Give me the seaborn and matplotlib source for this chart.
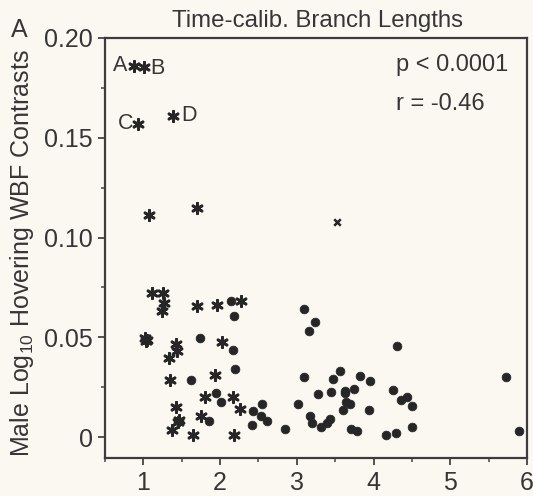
import matplotlib
matplotlib.use("Agg")
import matplotlib.pyplot as plt
import seaborn as sns
import pandas as pd
from matplotlib.ticker import MultipleLocator

# ---- data ----
ast_x = [0.88, 1.01, 0.935, 1.39, 1.07, 1.70, 1.11, 1.25, 1.27, 1.24,
         1.02, 1.05, 1.04, 1.43, 1.44, 1.34, 1.35, 1.42, 1.47, 1.45, 1.37,
         1.65, 1.70, 1.96, 2.27, 2.03, 1.93, 1.80, 1.75, 2.17, 2.26, 2.18]
ast_y = [0.186, 0.1857, 0.157, 0.161, 0.1115, 0.115, 0.0722, 0.0722, 0.0672, 0.0632,
         0.0495, 0.0485, 0.0480, 0.0466, 0.0432, 0.0397, 0.0287, 0.0152, 0.0084, 0.0076, 0.0035,
         0.0010, 0.0656, 0.0663, 0.0680, 0.0477, 0.0313, 0.0201, 0.0107, 0.0202, 0.0140, 0.0010]

dot_x = [2.14, 2.18, 1.74, 2.17, 2.20, 1.62, 1.95, 2.01, 1.86, 2.43,
         2.55, 2.53, 2.61, 2.41, 2.85, 3.09, 3.24, 3.16, 3.09, 3.01,
         3.28, 3.45, 3.47, 3.56, 3.63, 3.63, 3.64, 3.60, 3.17, 3.20,
         3.32, 3.39, 3.43, 3.70, 3.79, 4.30, 3.82, 3.96, 3.74, 3.69,
         3.94, 4.25, 4.36, 4.44, 4.50, 4.50, 4.29, 4.16, 5.73, 5.89]
dot_y = [0.0682, 0.0605, 0.0498, 0.0435, 0.0343, 0.0285, 0.0222, 0.0175, 0.0080, 0.0130,
         0.0168, 0.0107, 0.0080, 0.0060, 0.0042, 0.0643, 0.0577, 0.0532, 0.0302, 0.0168,
         0.0217, 0.0228, 0.0293, 0.0330, 0.0232, 0.0222, 0.0178, 0.0137, 0.0107, 0.0072,
         0.0048, 0.0068, 0.0088, 0.0040, 0.0032, 0.0458, 0.0308, 0.0282, 0.0242, 0.0167,
         0.0135, 0.0237, 0.0185, 0.0202, 0.0155, 0.0052, 0.0022, 0.0008, 0.0302, 0.0030]

x_x = [3.52]
x_y = [0.108]

point_labels = ["A", "B", "C", "D"]
label_x = [0.88, 1.01, 0.935, 1.39]
label_y = [0.186, 0.1857, 0.157, 0.161]

xticks = [1, 2, 3, 4, 5, 6]
yticks = [0, 0.05, 0.10, 0.15, 0.20]
ytick_labels = ["0", "0.05", "0.10", "0.15", "0.20"]

title = "Time-calib. Branch Lengths"
ylabel = "Male Log$_{10}$ Hovering WBF Contrasts"
stats_text = ["p < 0.0001", "r = -0.46"]

# ---- build frame ----
df = pd.concat([
    pd.DataFrame({"x": ast_x, "y": ast_y, "kind": "ast"}),
    pd.DataFrame({"x": dot_x, "y": dot_y, "kind": "dot"}),
    pd.DataFrame({"x": x_x, "y": x_y, "kind": "cross"}),
], ignore_index=True)

sns.set_theme(style="ticks")
bg = "#faf8f1"
ink = "#262626"
txt = "#363636"
plt.rcParams["font.family"] = ["Liberation Sans", "DejaVu Sans"]
plt.rcParams["mathtext.default"] = "regular"

fig = plt.figure(figsize=(5.33, 4.96), dpi=100, facecolor=bg)
ax = fig.add_axes([105 / 533, 38 / 496, 422 / 533, 420 / 496])
ax.set_facecolor(bg)

sub = df[df.kind == "dot"]
sns.scatterplot(data=sub, x="x", y="y", ax=ax, marker="o", s=40,
                color=ink, edgecolor=ink, linewidth=0.5, legend=False)
sub = df[df.kind == "ast"]
sns.scatterplot(data=sub, x="x", y="y", ax=ax, marker=(6, 2, 0), s=55,
                color=ink, edgecolor=ink, linewidth=2.0, legend=False)
sub = df[df.kind == "cross"]
sns.scatterplot(data=sub, x="x", y="y", ax=ax, marker="x", s=22,
                color=ink, linewidth=1.8, legend=False)

# point labels (offset from their points)
offsets = {"A": (-0.177, 0.0003), "B": (0.175, -0.0012),
           "C": (-0.165, 0.0), "D": (0.21, 0.0003)}
for lab, lx, ly in zip(point_labels, label_x, label_y):
    dx, dy = offsets[lab]
    ax.text(lx + dx, ly + dy, lab, ha="center", va="center", fontsize=15.5, color=txt)

ax.set_xlim(0.5, 6.0)
ax.set_ylim(-0.0105, 0.2)
ax.set_xticks(xticks)
ax.set_xticklabels([str(t) for t in xticks])
ax.set_yticks(yticks)
ax.set_yticklabels(ytick_labels)
ax.xaxis.set_minor_locator(MultipleLocator(0.5))
ax.yaxis.set_minor_locator(MultipleLocator(0.025))
ax.tick_params(axis="both", which="major", direction="out", length=5, width=1.3,
               color="#444444", labelsize=18, labelcolor=txt, pad=4)
ax.tick_params(axis="both", which="minor", direction="out", length=3, width=1.1,
               color="#444444")
for side in ["left", "bottom", "top", "right"]:
    ax.spines[side].set_visible(True)
    ax.spines[side].set_linewidth(1.6)
    ax.spines[side].set_color("#3c3c3c")

ax.set_xlabel("")
ax.set_ylabel("")
fig.text(22 / 533, 1 - 253 / 496, ylabel, rotation=90, ha="center", va="center",
         fontsize=18, color=txt)

fig.text(317 / 533, 1 - 27 / 496, title, ha="center", va="baseline",
         fontsize=17.3, color=txt)
fig.text(19.5 / 533, 1 - 37 / 496, "A", ha="center", va="baseline",
         fontsize=18, color=txt)

fig.text(396 / 533, 1 - 65 / 496, stats_text[0], ha="left",
         va="center", fontsize=17, color=txt)
fig.text(396 / 533, 1 - 104 / 496, stats_text[1], ha="left",
         va="center", fontsize=17, color=txt)

fig.savefig("out.png", dpi=100, facecolor=bg)
